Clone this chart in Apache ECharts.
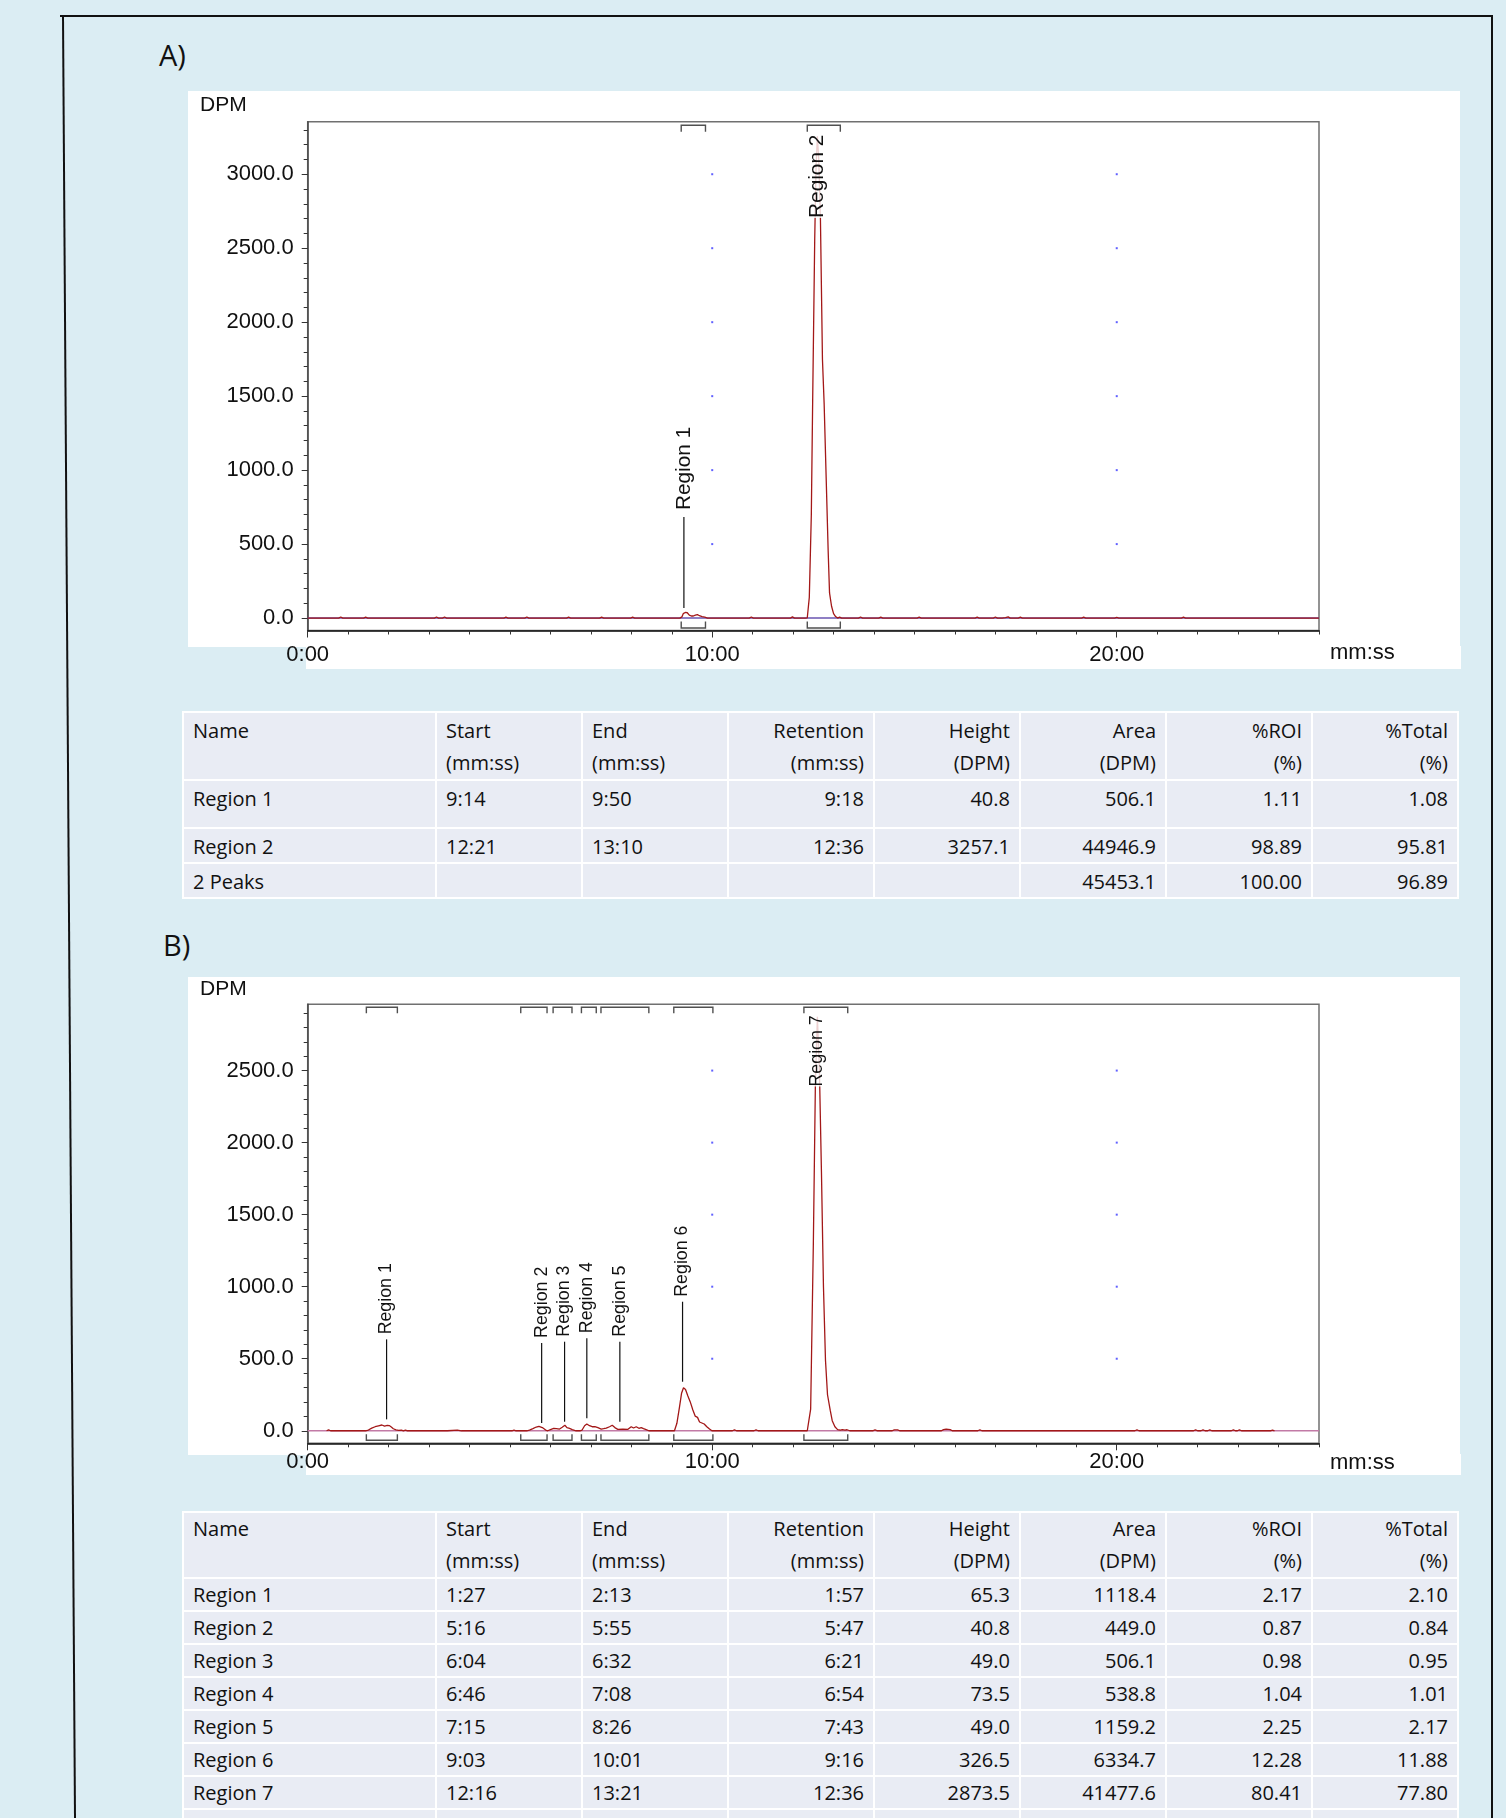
<!DOCTYPE html>
<html>
<head>
<meta charset="utf-8">
<title>Radio-HPLC chromatograms</title>
<script src="https://cdn.jsdelivr.net/npm/echarts@6/dist/echarts.min.js"></script>
<style>
  html, body { margin: 0; padding: 0; }
  body { position: relative; width: 1506px; height: 1818px; overflow: hidden; background: #dbedf3; }
  .white { position: absolute; background: #fff; }
  .chart { position: absolute; left: 0; width: 1506px; }
  .tag { position: absolute; font-family: "Open Sans", sans-serif; font-size: 29px; color: #111; line-height: 30px; }
  table.peaks { position: absolute; left: 182px; width: 1277px; border-collapse: separate; border-spacing: 2px;
    background: #fff; table-layout: fixed; font-family: "Open Sans", sans-serif; font-size: 20px; color: #111; }
  table.peaks td { box-sizing: border-box; background: #e9ecf4; padding: 0 9px 0 9px; vertical-align: top;
    white-space: nowrap; overflow: hidden; }
  table.peaks td.r { text-align: right; }
  svg.frame { position: absolute; left: 0; top: 0; pointer-events: none; }
</style>
</head>
<body>
<div class="white" style="left:188px;top:91px;width:1272px;height:556px"></div>
<div class="white" style="left:306px;top:646px;width:1155px;height:23px"></div>
<div class="white" style="left:188px;top:977px;width:1272px;height:478px"></div>
<div class="white" style="left:306px;top:1454px;width:1155px;height:21px"></div>
<div class="tag" style="left:159px;top:40px">A)</div>
<div class="tag" style="left:163px;top:930px">B)</div>
<div id="chartA" class="chart" style="top:0;height:700px"></div>
<div id="chartB" class="chart" style="top:960px;height:540px"></div>
<table id="tableA" class="peaks" style="top:711px"></table>
<table id="tableB" class="peaks" style="top:1511px"></table>
<svg class="frame" width="1506" height="1818">
  <line x1="60" y1="16" x2="1492" y2="16" stroke="#111" stroke-width="2"/>
  <line x1="63" y1="16" x2="75" y2="1818" stroke="#111" stroke-width="2"/>
  <line x1="1492" y1="15" x2="1492" y2="1818" stroke="#111" stroke-width="2"/>
</svg>
<script>
// time axis runs 0:00 .. 25:00, values in seconds
const X_MAX = 1500
const xLabelTicks = [0, 600, 1200]
const yLabelTicksA = [0, 500, 1000, 1500, 2000, 2500, 3000]
const yLabelTicksB = [0, 500, 1000, 1500, 2000, 2500]

// chromatogram A: [seconds, DPM]
const traceA = [
  [0, 0], [46, 0], [49, 7], [52, 0], [83, 0], [86, 6], [89, 0], [188, 0], [191, 7], [194, 0],
  [200, 0], [203, 7], [206, 0], [291, 0], [294, 6], [297, 0], [322, 0], [325, 7], [328, 0],
  [384, 0], [387, 6], [390, 0], [433, 0], [436, 6], [439, 0], [479, 0], [482, 6], [485, 0],
  [552, 0], [555, 8], [557, 30], [560, 38], [563, 36], [566, 20], [569, 14], [572, 14], [575, 20],
  [578, 24], [581, 16], [585, 10], [589, 6], [593, 0], [655, 0], [658, 7], [661, 0], [716, 0],
  [719, 8], [722, 0], [738, 0], [741, 2], [744, 140], [747, 700], [749, 1473], [752, 2550],
  [754, 3050], [756, 3257], [758, 3100], [760.5, 2700], [763.5, 1750], [766, 1450], [769, 950],
  [772, 450], [774, 170], [777, 80], [780, 30], [783, 10], [786, 0], [789, 6], [792, 0],
  [817, 0], [820, 7], [823, 0], [847, 0], [850, 6], [853, 0], [904, 0], [907, 6], [910, 0],
  [990, 0], [993, 6], [996, 0], [1017, 0], [1020, 7], [1023, 0], [1030, 0], [1032, 7], [1035, 3],
  [1039, 8], [1042, 0], [1054, 0], [1057, 6], [1060, 0], [1148, 0], [1151, 6], [1154, 0],
  [1197, 0], [1200, 5], [1203, 0], [1296, 0], [1299, 6], [1302, 0], [1500, 0]
]

// chromatogram B: [seconds, DPM]
const traceB = [
  [28, 0], [31, 6], [34, 0], [86, 0], [90, 5], [95, 18], [100, 28], [105, 34], [110, 40], [114, 32],
  [118, 38], [121, 36], [124, 26], [127, 14], [131, 6], [135, 2], [139, 5], [142, 0], [145, 5],
  [148, 0], [156, 0], [158.6, 5], [161, 0], [166, 0], [168.5, 5], [171, 0], [198, 0], [200.6, 5],
  [203, 0], [207, 0], [209, 5], [222, 5], [224, 0], [228, 0], [230.3, 5], [233, 0], [266, 0],
  [268.8, 5], [271, 0], [303, 0], [306, 5], [309, 0], [325, 0], [329, 5], [334, 15], [339, 26],
  [343, 31], [348, 22], [353, 5], [356, 0], [358, 3], [361, 10], [365, 17], [368.7, 15],
  [373.6, 12], [377.5, 24], [381.5, 38], [384.5, 22], [388.4, 17], [392.4, 8], [398, 0], [404, 0],
  [407, 5], [410.7, 35], [414, 47], [418, 35], [422, 28], [426, 28], [430.4, 22], [435.4, 12],
  [438.8, 15], [442.8, 19], [447.7, 28], [451.7, 38], [455.6, 22], [460, 10], [467.5, 12],
  [475, 10], [479.9, 28], [483.3, 19], [487.3, 28], [491.2, 17], [494.7, 22], [498.1, 15],
  [502, 8], [506, 0], [544, 0], [547.6, 52], [551.5, 166], [554.5, 260], [557.4, 299],
  [560.4, 287], [563.9, 241], [567.3, 202], [571.3, 144], [574.7, 102], [578.2, 93], [581.2, 61],
  [584.1, 63], [588.1, 47], [592, 28], [596, 12], [599.5, 0], [612, 0], [614.8, 6], [617, 0],
  [630, 0], [633, 6], [636, 0], [662, 0], [665, 6], [668, 0], [741, 0], [743.7, 10], [746, 150],
  [750, 1300], [753, 2400], [756, 2873], [759, 2500], [762, 1800], [765, 1000], [768, 490],
  [771, 250], [775, 143], [778, 70], [782, 28], [786, 8], [790, 5], [793, 8], [797, 4], [800, 7],
  [804, 0], [838, 0], [841.5, 6], [845, 0], [867, 0], [870, 6], [872.5, 2], [875, 6], [878, 0],
  [922, 0], [924.7, 6], [927, 0], [940, 0], [943, 8], [947, 12], [953, 8], [956, 0], [994, 0],
  [997, 6], [1000, 0], [1227, 0], [1230, 6], [1233, 0], [1314, 0], [1317, 6], [1320, 0],
  [1325, 0], [1328, 6], [1331, 0], [1335, 0], [1338, 6], [1341, 0], [1370, 0], [1373, 6],
  [1376, 0], [1379, 0], [1382, 6], [1385, 0], [1428, 0], [1431, 5], [1434, 0]
]

// peak tables
const regionNameA = ['Region 1', 'Region 2']
const regionStartA = ['9:14', '12:21']
const regionEndA = ['9:50', '13:10']
const regionRetA = ['9:18', '12:36']
const regionHeightA = [40.8, 3257.1]
const regionAreaA = [506.1, 44946.9]
const regionRoiA = [1.11, 98.89]
const regionTotalA = [1.08, 95.81]
const summaryA = ['2 Peaks', 45453.1, 100.00, 96.89]

const regionNameB = ['Region 1', 'Region 2', 'Region 3', 'Region 4', 'Region 5', 'Region 6', 'Region 7']
const regionStartB = ['1:27', '5:16', '6:04', '6:46', '7:15', '9:03', '12:16']
const regionEndB = ['2:13', '5:55', '6:32', '7:08', '8:26', '10:01', '13:21']
const regionRetB = ['1:57', '5:47', '6:21', '6:54', '7:43', '9:16', '12:36']
const regionHeightB = [65.3, 40.8, 49.0, 73.5, 49.0, 326.5, 2873.5]
const regionAreaB = [1118.4, 449.0, 506.1, 538.8, 1159.2, 6334.7, 41477.6]
const regionRoiB = [2.17, 0.87, 0.98, 1.04, 2.25, 12.28, 80.41]
const regionTotalB = [2.10, 0.84, 0.95, 1.01, 2.17, 11.88, 77.80]

const FONT = '"Liberation Sans", Arial, sans-serif'

const toSec = s => { const p = s.split(':'); return (+p[0]) * 60 + (+p[1]) }
const mmss = v => { const m = Math.floor(v / 60), s = Math.round(v - m * 60); return m + ':' + (s < 10 ? '0' : '') + s }

const measureCtx = document.createElement('canvas').getContext('2d')
const textWidth = (str, size) => { measureCtx.font = size + 'px ' + FONT; return measureCtx.measureText(str).width }

// brackets, leader lines and vertical labels for every region
const regionRenderer = (p) => (params, api) => {
  const cs = params.coordSys
  const s = api.value(0), e = api.value(1), r = api.value(2), h = api.value(3)
  const name = p.names[params.dataIndex]
  const ps = api.coord([s, 0]), pe = api.coord([e, 0])
  const base = ps[1]
  const pk = api.coord([r, h])
  const st = { stroke: '#505050', lineWidth: 1.4, fill: null }
  const yt = cs.y + p.bracket.top, yb = base + p.bracket.bottom
  const kids = [
    { type: 'polyline', shape: { points: [[ps[0], yt + p.bracket.h], [ps[0], yt], [pe[0], yt], [pe[0], yt + p.bracket.h]] }, style: st },
    { type: 'polyline', shape: { points: [[ps[0], yb - p.bracket.h], [ps[0], yb], [pe[0], yb], [pe[0], yb - p.bracket.h]] }, style: st }
  ]
  const len = textWidth(name, p.labelSize)
  let textBottom = pk[1] - p.lead.gap - p.lead.len - p.lead.textGap
  const tall = textBottom - len < cs.y + p.lead.top
  if (tall) {
    textBottom = cs.y + p.lead.top + len
  } else {
    kids.push({ type: 'line', shape: { x1: pk[0], y1: textBottom + p.lead.textGap, x2: pk[0], y2: pk[1] - p.lead.gap },
      style: { stroke: '#111', lineWidth: 1.2 } })
  }
  kids.push({
    type: 'text', x: pk[0], y: textBottom, rotation: Math.PI / 2,
    style: {
      text: name, fill: '#111', fontSize: p.labelSize, fontFamily: FONT, align: 'left', verticalAlign: 'middle',
      backgroundColor: tall ? 'rgba(255,255,255,0.8)' : 'transparent'
    }
  })
  return { type: 'group', children: kids }
}

const buildOption = (p) => {
  const k = p.plot.height / (p.yMax - p.yMin)
  const yPix = v => p.plot.top + (p.yMax - v) * k
  const minorMax = Math.floor(p.yMax / 100) * 100
  const majorMax = p.yTicks[p.yTicks.length - 1]
  const xMajorMax = xLabelTicks[xLabelTicks.length - 1]
  const labelStyle = { color: '#111', fontSize: 22, fontFamily: FONT }

  const regions = p.names.map((n, i) => [toSec(p.start[i]), toSec(p.end[i]), toSec(p.ret[i]), p.height[i]])
  const dots = []
  xLabelTicks.filter(t => t > 0).forEach(t => p.yTicks.filter(v => v > 0).forEach(v => dots.push([t, v])))

  return {
    animation: false,
    grid: [
      { left: p.plot.left, top: p.plot.top, width: p.plot.width, height: p.plot.height,
        show: true, borderColor: '#707070', borderWidth: 1.5, backgroundColor: 'transparent' },
      { left: p.plot.left, top: p.plot.top, width: p.plot.width * xMajorMax / X_MAX, height: p.plot.height },
      { left: p.plot.left, top: yPix(minorMax), width: p.plot.width, height: yPix(0) - yPix(minorMax) },
      { left: p.plot.left, top: yPix(majorMax), width: p.plot.width, height: yPix(0) - yPix(majorMax) }
    ],
    xAxis: [
      { gridIndex: 0, type: 'value', min: 0, max: X_MAX, interval: 60,
        axisLine: { show: true, onZero: false, lineStyle: { color: '#111', width: 1.5 } },
        axisTick: { show: true, length: 4, lineStyle: { color: '#333' } },
        axisLabel: { show: false }, splitLine: { show: false } },
      { gridIndex: 1, type: 'value', min: 0, max: xMajorMax, interval: xLabelTicks[1] - xLabelTicks[0],
        axisLine: { show: false, onZero: false },
        axisTick: { show: true, length: 7, lineStyle: { color: '#333' } },
        axisLabel: Object.assign({ margin: p.xMargin, formatter: mmss }, labelStyle), splitLine: { show: false } },
      { gridIndex: 2, type: 'value', min: 0, max: X_MAX, show: false },
      { gridIndex: 3, type: 'value', min: 0, max: X_MAX, show: false }
    ],
    yAxis: [
      { gridIndex: 0, type: 'value', min: p.yMin, max: p.yMax,
        axisLine: { show: true, onZero: false, lineStyle: { color: '#4a4a4a', width: 1.5 } },
        axisTick: { show: false }, axisLabel: { show: false }, splitLine: { show: false } },
      { gridIndex: 1, type: 'value', min: 0, max: 1, show: false },
      { gridIndex: 2, type: 'value', min: 0, max: minorMax, interval: 100,
        axisLine: { show: false }, axisTick: { show: true, length: 4, lineStyle: { color: '#333' } },
        axisLabel: { show: false }, splitLine: { show: false } },
      { gridIndex: 3, type: 'value', min: 0, max: majorMax, interval: p.yTicks[1] - p.yTicks[0],
        axisLine: { show: false }, axisTick: { show: true, length: 6, lineStyle: { color: '#333' } },
        axisLabel: Object.assign({ margin: 14, padding: [8, 0, 0, 0], formatter: v => v.toFixed(1) }, labelStyle),
        splitLine: { show: false } }
    ],
    graphic: [
      { type: 'text', x: 200, y: p.dpmY, style: { text: 'DPM', fill: '#111', fontSize: 21, fontFamily: FONT, verticalAlign: 'middle' } },
      { type: 'text', x: 1330, y: p.unitY, style: { text: 'mm:ss', fill: '#111', fontSize: 22, fontFamily: FONT, verticalAlign: 'middle' } }
    ],
    series: [
      { type: 'line', xAxisIndex: 0, yAxisIndex: 0, data: [[0, 0], [X_MAX, 0]], showSymbol: false, silent: true,
        lineStyle: { color: p.baseColor, width: 1.6 }, z: 2 },
      { type: 'scatter', xAxisIndex: 0, yAxisIndex: 0, data: dots, symbol: 'rect', symbolSize: 2, silent: true,
        itemStyle: { color: '#3a3aff' }, z: 2 },
      { type: 'line', xAxisIndex: 0, yAxisIndex: 0, data: p.trace, showSymbol: false, silent: true,
        lineStyle: { color: '#a31818', width: 1.3 }, z: 3 },
      { type: 'custom', xAxisIndex: 0, yAxisIndex: 0, data: regions, renderItem: regionRenderer(p), clip: false,
        encode: { x: [0, 1, 2], y: 3 }, silent: true, z: 5 }
    ]
  }
}

const chartA = echarts.init(document.getElementById('chartA'))
chartA.setOption(buildOption({
  plot: { left: 307.7, top: 121.7, width: 1011.3, height: 508.8 },
  yMin: -84, yMax: 3355, yTicks: yLabelTicksA, trace: traceA, xMargin: 13,
  names: regionNameA, start: regionStartA, end: regionEndA, ret: regionRetA, height: regionHeightA,
  labelSize: 20.8, lead: { gap: 4, len: 91, textGap: 7, top: 13 }, bracket: { top: 3.5, h: 6.5, bottom: 10 },
  dpmY: 105, unitY: 653, baseColor: '#6a55b0'
}))

const chartB = echarts.init(document.getElementById('chartB'))
chartB.setOption(buildOption({
  plot: { left: 307.7, top: 44.3, width: 1011.3, height: 439 },
  yMin: -87, yMax: 2960, yTicks: yLabelTicksB, trace: traceB, xMargin: 8,
  names: regionNameB, start: regionStartB, end: regionEndB, ret: regionRetB, height: regionHeightB,
  labelSize: 17.8, lead: { gap: 2, len: 80, textGap: 5, top: 11 }, bracket: { top: 3, h: 6, bottom: 9.5 },
  dpmY: 29, unitY: 502.7, baseColor: '#c27aa6'
}))

// tables under each chart
const headers = [['Name', ''], ['Start', '(mm:ss)'], ['End', '(mm:ss)'], ['Retention', '(mm:ss)'],
  ['Height', '(DPM)'], ['Area', '(DPM)'], ['%ROI', '(%)'], ['%Total', '(%)']]
const colWidths = [251, 144, 144, 144, 144, 144, 144, 144]

const fillTable = (id, rows, t) => {
  const table = document.getElementById(id)
  let html = '<tr style="height:' + t.headH + 'px">'
  headers.forEach((h, i) => {
    html += '<td class="' + (i > 2 ? 'r' : '') + '" style="width:' + colWidths[i] + 'px;line-height:32px;padding-top:' +
      t.headPad + 'px">' + h[0] + '<br>' + h[1] + '</td>'
  })
  html += '</tr>'
  rows.forEach((r, j) => {
    html += '<tr style="height:' + t.rowH[j] + 'px">'
    r.forEach((c, i) => {
      html += '<td class="' + (i > 2 ? 'r' : '') + '" style="line-height:' + t.lh + 'px;padding-top:' + t.rowPad + 'px">' + c + '</td>'
    })
    html += '</tr>'
  })
  table.innerHTML = html
}

const rowsA = regionNameA.map((n, i) => [n, regionStartA[i], regionEndA[i], regionRetA[i], regionHeightA[i].toFixed(1),
  regionAreaA[i].toFixed(1), regionRoiA[i].toFixed(2), regionTotalA[i].toFixed(2)])
rowsA.push([summaryA[0], '', '', '', '', summaryA[1].toFixed(1), summaryA[2].toFixed(2), summaryA[3].toFixed(2)])
fillTable('tableA', rowsA, { headH: 64, headPad: 2, rowH: [46, 32, 32], lh: 30, rowPad: 3 })

const rowsB = regionNameB.map((n, i) => [n, regionStartB[i], regionEndB[i], regionRetB[i], regionHeightB[i].toFixed(1),
  regionAreaB[i].toFixed(1), regionRoiB[i].toFixed(2), regionTotalB[i].toFixed(2)])
rowsB.push(['', '', '', '', '', '', '', ''])
fillTable('tableB', rowsB, { headH: 63, headPad: 0, rowH: [31, 31, 31, 31, 31, 31, 31, 31], lh: 30, rowPad: 1 })
</script>
</body>
</html>
